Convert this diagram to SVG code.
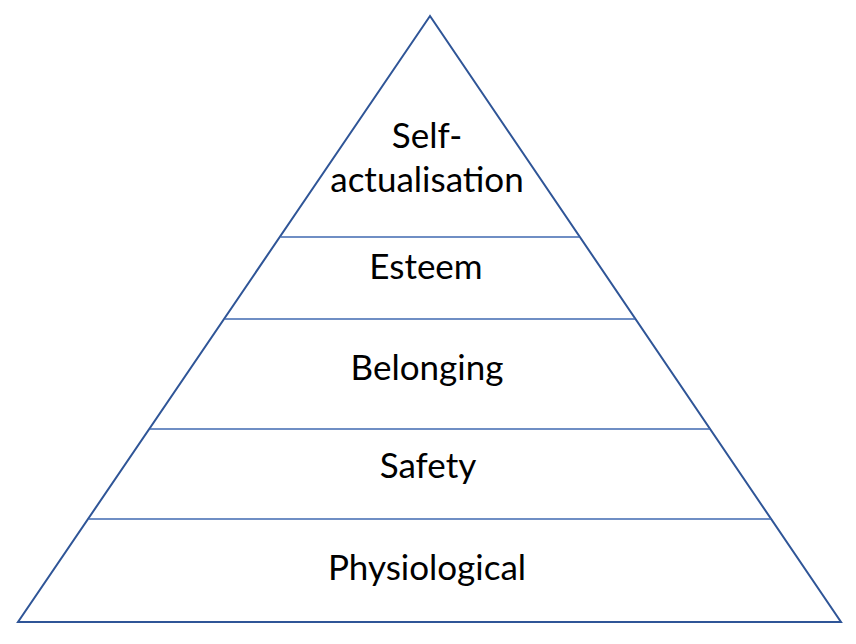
<svg xmlns="http://www.w3.org/2000/svg" width="856" height="644" viewBox="0 0 856 644">
<style>
.outline{fill:none;stroke:#2F5597;stroke-width:2;stroke-linejoin:miter}
.div{stroke:#3F68B0;stroke-width:1.6}
.lbl{font-family:Lato,"Noto Sans",sans-serif;font-size:35px;fill:#000;text-anchor:middle}
</style>
<rect width="856" height="644" fill="#fff"/>
<g id="pyramid">
<polygon class="outline" points="430,16 18,622 841,622"/>
</g>
<g id="connectors">
<line class="div" x1="280.5" y1="237" x2="579.5" y2="237"/>
<line class="div" x1="225" y1="319" x2="635" y2="319"/>
<line class="div" x1="150" y1="429" x2="710" y2="429"/>
<line class="div" x1="89" y1="519" x2="771" y2="519"/>
</g>
<g id="self-actualisation">
<text class="lbl" x="427" y="148">Self-</text>
<text class="lbl" x="427" y="192">actualisation</text>
</g>
<g id="esteem"><text class="lbl" x="426" y="279">Esteem</text></g>
<g id="belonging"><text class="lbl" x="427" y="380">Belonging</text></g>
<g id="safety"><text class="lbl" x="428" y="478">Safety</text></g>
<g id="physiological"><text class="lbl" x="427" y="580">Physiological</text></g>
</svg>
